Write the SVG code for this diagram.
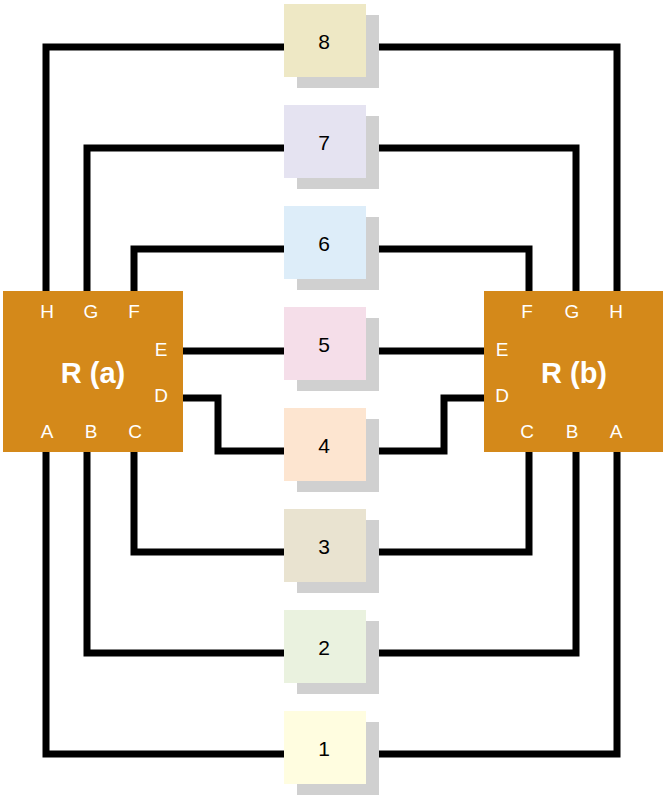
<svg xmlns="http://www.w3.org/2000/svg" width="663" height="795" viewBox="0 0 663 795">
<style>
.wire{fill:none;stroke:#000;stroke-width:7;stroke-linejoin:miter}
.shadow{fill:#d0d0d0}
.num{font-family:"Liberation Sans",Arial,sans-serif;font-size:21px;fill:#000;text-anchor:middle}
.router{fill:#d4891a}
.port{font-family:"Liberation Sans",Arial,sans-serif;font-size:19px;fill:#fff;text-anchor:middle}
.title{font-family:"Liberation Sans",Arial,sans-serif;font-size:29px;font-weight:bold;fill:#fff;text-anchor:middle}
</style>
<rect width="663" height="795" fill="#fff"/>
<g id="connectors">
<polyline class="wire" points="46,291 46,47 617,47 617,291"/>
<polyline class="wire" points="87,291 87,148 576,148 576,291"/>
<polyline class="wire" points="134,291 134,249 529,249 529,291"/>
<polyline class="wire" points="183,351 484,351"/>
<polyline class="wire" points="183,398 218,398 218,451 444,451 444,398 484,398"/>
<polyline class="wire" points="134,452 134,552 529,552 529,452"/>
<polyline class="wire" points="87,452 87,653 576,653 576,452"/>
<polyline class="wire" points="46,452 46,754 617,754 617,452"/>
</g>
<g id="router-a">
<rect class="router" x="3" y="291" width="180" height="161"/>
<text class="title" x="93" y="383">R (a)</text>
<text class="port" x="47" y="318">H</text>
<text class="port" x="91" y="318">G</text>
<text class="port" x="134" y="318">F</text>
<text class="port" x="161" y="356">E</text>
<text class="port" x="161" y="402">D</text>
<text class="port" x="47" y="438">A</text>
<text class="port" x="91" y="438">B</text>
<text class="port" x="135" y="438">C</text>
</g>
<g id="router-b">
<rect class="router" x="484" y="291" width="180" height="161"/>
<text class="title" x="574" y="383">R (b)</text>
<text class="port" x="527" y="318">F</text>
<text class="port" x="572" y="318">G</text>
<text class="port" x="616" y="318">H</text>
<text class="port" x="502" y="356">E</text>
<text class="port" x="502" y="402">D</text>
<text class="port" x="527" y="438">C</text>
<text class="port" x="572" y="438">B</text>
<text class="port" x="616" y="438">A</text>
</g>
<g id="node-8"><rect class="shadow" x="297" y="15" width="82" height="73"/><rect x="284" y="4" width="82" height="73" fill="#eee8c5"/><text class="num" x="324" y="49">8</text></g>
<g id="node-7"><rect class="shadow" x="297" y="116" width="82" height="73"/><rect x="284" y="105" width="82" height="73" fill="#e5e3f1"/><text class="num" x="324" y="150">7</text></g>
<g id="node-6"><rect class="shadow" x="297" y="217" width="82" height="73"/><rect x="284" y="206" width="82" height="73" fill="#ddedf9"/><text class="num" x="324" y="251">6</text></g>
<g id="node-5"><rect class="shadow" x="297" y="318" width="82" height="73"/><rect x="284" y="307" width="82" height="73" fill="#f5dee9"/><text class="num" x="324" y="352">5</text></g>
<g id="node-4"><rect class="shadow" x="297" y="419" width="82" height="73"/><rect x="284" y="408" width="82" height="73" fill="#fde5d0"/><text class="num" x="324" y="453">4</text></g>
<g id="node-3"><rect class="shadow" x="297" y="520" width="82" height="73"/><rect x="284" y="509" width="82" height="73" fill="#e9e3d0"/><text class="num" x="324" y="554">3</text></g>
<g id="node-2"><rect class="shadow" x="297" y="621" width="82" height="73"/><rect x="284" y="610" width="82" height="73" fill="#eaf2df"/><text class="num" x="324" y="655">2</text></g>
<g id="node-1"><rect class="shadow" x="297" y="722" width="82" height="73"/><rect x="284" y="711" width="82" height="73" fill="#fffde0"/><text class="num" x="324" y="756">1</text></g>
</svg>
